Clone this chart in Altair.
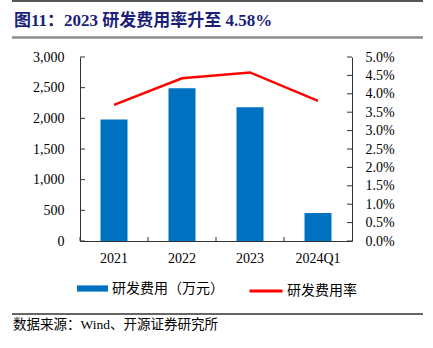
import altair as alt
import pandas as pd

# ---- data ----
years = ["2021", "2022", "2023", "2024Q1"]
rd_expense = [1980, 2490, 2180, 456]          # 研发费用（万元）
rd_rate = [0.0370, 0.0442, 0.0458, 0.0381]    # 研发费用率
left_ticks = [0, 500, 1000, 1500, 2000, 2500, 3000]
right_ticks = [0.0, 0.005, 0.01, 0.015, 0.02, 0.025, 0.03, 0.035, 0.04, 0.045, 0.05]
bar_name = "研发费用（万元）"
line_name = "研发费用率"
title_text = "图11：2023 研发费用率升至 4.58%"
source_text = "数据来源：Wind、开源证券研究所"

W, H = 272, 184
FONT = "Liberation Serif, Noto Sans CJK SC"
AXIS_C = "#333333"
BLUE = "#0070C0"
RED = "#FF0000"

df = pd.DataFrame({
    "year": years,
    "expense": rd_expense,
    "rate": rd_rate,
    "bar_series": [bar_name] * len(years),
    "line_series": [line_name] * len(years),
})
left_df = pd.DataFrame({"v": left_ticks})
right_df = pd.DataFrame({"v": right_ticks})
one = alt.Data(values=[{"a": 1}])

x_axis = alt.Axis(title=None, labelAngle=0, ticks=False, tickSize=0,
                  labelPadding=10, domainColor=AXIS_C, labelFont=FONT,
                  labelFontSize=14, labelColor="#000000", grid=False)
x_scale = alt.Scale(paddingInner=0, paddingOuter=0)
left_axis = alt.Axis(orient="left", values=left_ticks, format=",d", title=None,
                     ticks=False, tickSize=0, labelPadding=16, grid=False,
                     domainColor=AXIS_C, labelFont=FONT, labelFontSize=14,
                     labelColor="#000000")
right_axis = alt.Axis(orient="right", values=right_ticks, format=".1%", title=None,
                      ticks=False, tickSize=0, labelPadding=13, grid=False,
                      domainColor=AXIS_C, labelFont=FONT, labelFontSize=14,
                      labelColor="#000000")

left_scale = alt.Scale(domain=[0, 3000], nice=False)
right_scale = alt.Scale(domain=[0, 0.05], nice=False)

bars = alt.Chart(df).mark_bar(size=27).encode(
    x=alt.X("year:N", sort=years, scale=x_scale, axis=x_axis),
    y=alt.Y("expense:Q", scale=left_scale, axis=left_axis),
    fill=alt.Fill("bar_series:N",
                  scale=alt.Scale(domain=[bar_name], range=[BLUE]),
                  legend=alt.Legend(orient="none", legendX=-3, legendY=216, title=None,
                                    symbolType="M-1,-0.2H1V0.2H-1Z", symbolSize=961,
                                    symbolStrokeWidth=0, labelFont=FONT, labelFontSize=14,
                                    labelColor="#000000", labelOffset=4, padding=0)),
)

left_tick_rules = alt.Chart(left_df).mark_rule(color=AXIS_C).encode(
    y=alt.Y("v:Q", scale=left_scale, axis=left_axis),
    x=alt.value(0), x2=alt.value(5),
)

x_tick_rules = alt.Chart(df).mark_rule(color=AXIS_C).encode(
    x=alt.X("year:N", sort=years, scale=x_scale, axis=x_axis, bandPosition=0),
    y=alt.value(H - 4), y2=alt.value(H),
)

line = alt.Chart(df).mark_line(strokeWidth=2.5).encode(
    x=alt.X("year:N", sort=years, scale=x_scale, axis=x_axis),
    y=alt.Y("rate:Q", scale=right_scale, axis=right_axis),
    stroke=alt.Stroke("line_series:N",
                      scale=alt.Scale(domain=[line_name], range=[RED]),
                      legend=alt.Legend(orient="none", legendX=168, legendY=216, title=None,
                                        symbolType="stroke", symbolSize=1089,
                                        symbolStrokeWidth=3, labelFont=FONT, labelFontSize=14,
                                        labelColor="#000000", labelOffset=3, padding=0)),
)

right_tick_rules = alt.Chart(right_df).mark_rule(color=AXIS_C).encode(
    y=alt.Y("v:Q", scale=right_scale, axis=right_axis),
    x=alt.value(W - 5), x2=alt.value(W),
)

left_layer = alt.layer(bars, left_tick_rules, x_tick_rules)
right_layer = alt.layer(line, right_tick_rules)

# ---- decorations (title, separators, source) ----
top_line = alt.Chart(one).mark_rule(color="#555555", strokeWidth=2).encode(
    x=alt.value(-68), x2=alt.value(343), y=alt.value(-56))
title_line = alt.Chart(one).mark_rule(color="#8c8c8c", strokeWidth=2.5).encode(
    x=alt.value(-68), x2=alt.value(343), y=alt.value(-19.5))
bottom_line = alt.Chart(one).mark_rule(color="#333333", strokeWidth=1.5).encode(
    x=alt.value(-68), x2=alt.value(343), y=alt.value(257))
title = alt.Chart(one).mark_text(
    align="left", baseline="middle", font=FONT, fontSize=17, fontWeight="bold",
    color="#1C1F7A").encode(x=alt.value(-66), y=alt.value(-36), text=alt.value(title_text))
source = alt.Chart(one).mark_text(
    align="left", baseline="middle", font=FONT, fontSize=13.5, color="#000000").encode(
    x=alt.value(-67), y=alt.value(268), text=alt.value(source_text))

chart = alt.layer(
    left_layer, right_layer, top_line, title_line, bottom_line, title, source
).resolve_scale(y="independent").properties(
    width=W, height=H,
    padding={"left": 80, "top": 57, "right": 81, "bottom": 107},
    autosize=alt.AutoSizeParams(type="none"),
    background="white",
).configure_view(stroke=None)

chart.save("out.html", embed_options={"renderer": "svg", "actions": False})
